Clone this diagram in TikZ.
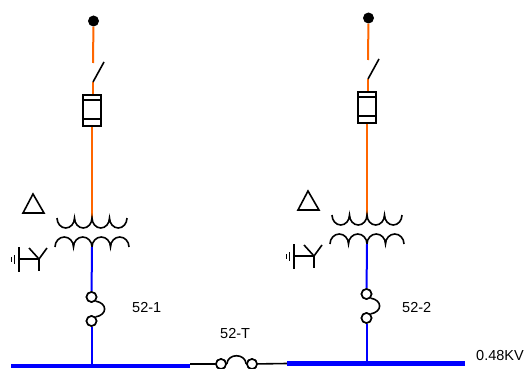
\documentclass[tikz,border=0pt]{standalone}
\usepackage{fontspec}
\setmainfont{Liberation Sans}
\definecolor{feed orange}{RGB}{255,102,0}
\definecolor{feed blue}{RGB}{0,0,255}
\tikzset{
  hv/.style={draw=feed orange, line width=2pt},
  lv/.style={draw=feed blue, line width=2pt},
  bus/.style={draw=feed blue, line width=4.5pt},
  wire/.style={draw=black, line width=1.6pt},
  label/.style={font=\fontsize{14.5pt}{16pt}\selectfont, inner sep=0pt, anchor=west}
  }
\tikzstyle{terminal}=[circle,fill=black,minimum size=11pt,inner sep=0pt]
\tikzstyle{contact}=[circle,draw=black,line width=1.6pt,fill=white,minimum size=10pt,inner sep=0pt]
\tikzstyle{fusebox}=[rectangle,draw=black,line width=2pt,fill=white,minimum width=18pt,minimum height=31pt,inner sep=0pt]
\begin{document}
\begin{tikzpicture}[x=1pt,y=-1pt]
   \useasboundingbox (0,0) rectangle (528,369);

   % one feeder, the second is only shifted
   \foreach \n/\dx/\dy in {1/0/0,2/275/-3}{
   \begin{scope}[shift={(\dx,\dy)}]
     \node[terminal] (dot\n) at (93.5,21) {};
     \coordinate (open\n) at (93,63);
     \coordinate (pivot\n) at (93,82);
     \coordinate (blade\n) at (104,62);
     \node[fusebox] (fuse\n) at (92,110.5) {};
     \coordinate (hvtap\n) at (92,218);
     \coordinate (lvtap\n) at (92,247);
     \node[contact] (brkup\n) at (91.5,297) {};
     \node[contact] (brkdn\n) at (91.5,321) {};
     \coordinate (tap\n) at (91.5,366);

     \path[hv] (dot\n) -- (open\n);
     \path[hv] (pivot\n) -- (fuse\n.north -| pivot\n);
     \path[hv] (fuse\n.south) -- (hvtap\n);
     \path[wire] (pivot\n) -- (blade\n);
     \path[wire] (fuse\n.north west) ++(0,6) -- ++(18,0);
     \path[wire] (fuse\n.south west) ++(0,-8) -- ++(18,0);

     % windings
     \draw[line width=1.6pt] (57,218)
        arc[start angle=180,end angle=360,x radius=8.75pt,y radius=10pt]
        arc[start angle=180,end angle=360,x radius=8.75pt,y radius=10pt]
        arc[start angle=180,end angle=360,x radius=8.75pt,y radius=10pt]
        arc[start angle=180,end angle=360,x radius=8.75pt,y radius=10pt];
     \draw[line width=1.6pt] (55,247)
        arc[start angle=180,end angle=0,x radius=9.25pt,y radius=10pt]
        arc[start angle=180,end angle=0,x radius=9.25pt,y radius=10pt]
        arc[start angle=180,end angle=0,x radius=9.25pt,y radius=10pt]
        arc[start angle=180,end angle=0,x radius=9.25pt,y radius=10pt];

     \path[lv] (lvtap\n) -- (brkup\n);
     \path[wire] (brkup\n.south east) .. controls +(12,2) and +(12,-2) .. (brkdn\n.north east);
     \path[lv] (brkdn\n) -- (tap\n);
     \node[contact] at (brkup\n) {};
     \node[contact] at (brkdn\n) {};

     % delta
     \draw[line width=1.6pt,line join=miter] (33,194) -- (44,213) -- (23,213) -- cycle;
     % grounded wye
     \draw[line width=1.6pt] (19,247) -- (19,272);
     \draw[line width=1.6pt] (14.5,255) -- (14.5,264);
     \draw[line width=1.6pt] (11.5,257) -- (11.5,262);
     \draw[line width=1.6pt] (19,259) -- (39,259) -- (39,271);
     \draw[line width=1.6pt] (29,248) -- (39,259) -- (47,248);
   \end{scope}
   }

   \coordinate (busA) at (11,366);
   \coordinate (busAend) at (190,366);
   \coordinate (busB) at (287,363.5);
   \coordinate (busBend) at (465,363.5);
   \node[contact] (brkTa) at (221,364) {};
   \node[contact] (brkTb) at (252,364) {};

   \path[wire] (busAend) ++(0,-2) -- (brkTa);
   \path[wire] (brkTb) -- (busB);
   \path[wire] (brkTa.east) .. controls +(1,-11) and +(-1,-11) .. (brkTb.west);
   \node[contact] at (brkTa) {};
   \node[contact] at (brkTb) {};
   \path[bus] (busA) -- (busAend);
   \path[bus] (busB) -- (busBend);

   \node[label] (lblA) at (132,308) {52-1};
   \node[label] (lblB) at (402,308) {52-2};
   \node[label] (lblT) at (220,334) {52-T};
   \node[label] (lblV) at (476,356) {0.48KV};
\end{tikzpicture}
\end{document}
